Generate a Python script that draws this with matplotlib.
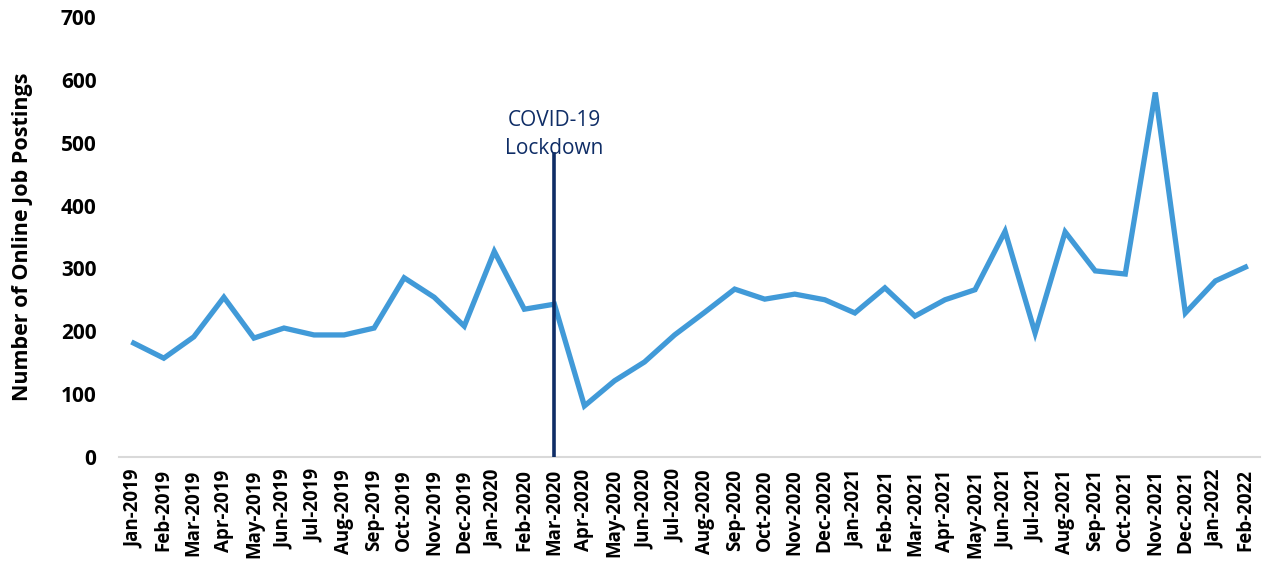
import matplotlib.pyplot as plt

plt.rcParams['font.family'] = ['Open Sans', 'DejaVu Sans']

months = ['Jan-2019', 'Feb-2019', 'Mar-2019', 'Apr-2019', 'May-2019', 'Jun-2019',
          'Jul-2019', 'Aug-2019', 'Sep-2019', 'Oct-2019', 'Nov-2019', 'Dec-2019',
          'Jan-2020', 'Feb-2020', 'Mar-2020', 'Apr-2020', 'May-2020', 'Jun-2020',
          'Jul-2020', 'Aug-2020', 'Sep-2020', 'Oct-2020', 'Nov-2020', 'Dec-2020',
          'Jan-2021', 'Feb-2021', 'Mar-2021', 'Apr-2021', 'May-2021', 'Jun-2021',
          'Jul-2021', 'Aug-2021', 'Sep-2021', 'Oct-2021', 'Nov-2021', 'Dec-2021',
          'Jan-2022', 'Feb-2022']
postings = [181, 157, 191, 254, 189, 205, 194, 194, 205, 285, 254, 208,
            327, 235, 243, 81, 121, 151, 194, 230, 267, 251, 259, 250,
            229, 269, 224, 250, 266, 359, 197, 358, 296, 291, 580, 229,
            280, 302]
yticks = [0, 100, 200, 300, 400, 500, 600, 700]
lockdown_month = 'Mar-2020'
lockdown_top = 482

fig = plt.figure(figsize=(12.63, 5.71), dpi=100)
ax = fig.add_axes([0.094, 0.200, 0.904, 0.770])

x = list(range(len(months)))
ax.plot(x, postings, color='#419AD8', linewidth=3.8, solid_joinstyle='miter')

lx = months.index(lockdown_month)
ax.plot([lx, lx], [0, lockdown_top], color='#0F2D66', linewidth=2.6, zorder=3)
ax.text(lx, 513, 'COVID-19\nLockdown', ha='center', va='center',
        color='#0F2D66', fontsize=15, linespacing=1.4)

ax.set_xlim(-0.5, len(months) - 0.5)
ax.set_ylim(0, 700)
ax.set_yticks(yticks)
ax.set_xticks(x)
ax.set_xticklabels(months, rotation=90, fontsize=13.5, fontweight='bold')
ax.tick_params(axis='y', labelsize=15, length=0, pad=16)
ax.tick_params(axis='x', length=0, pad=9)
for lbl in ax.get_yticklabels():
    lbl.set_fontweight('bold')

ax.set_ylabel('Number of Online Job Postings', fontsize=15.5, fontweight='bold', labelpad=20)

for s in ['top', 'right', 'left']:
    ax.spines[s].set_visible(False)
ax.spines['bottom'].set_color('#D9D9D9')
ax.spines['bottom'].set_linewidth(1.5)

fig.savefig('out.png', dpi=100)
